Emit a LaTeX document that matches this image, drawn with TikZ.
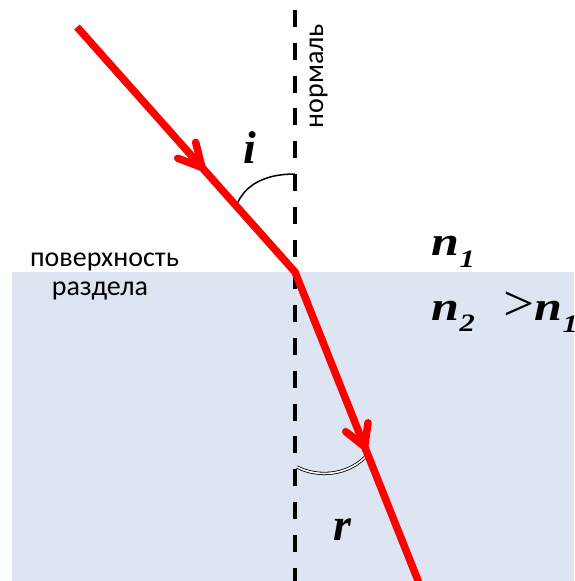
\documentclass[tikz,border=0pt]{standalone}
\usepackage{fontspec}
\setmainfont{Liberation Serif}
\newfontfamily\calibfont{Carlito}
\usetikzlibrary{decorations.markings}
\definecolor{waterblue}{RGB}{220,229,241}
\definecolor{rayred}{RGB}{255,0,0}
\begin{document}
\begin{tikzpicture}[x=1pt,y=-1pt,
  ray/.style={draw=rayred, line width=7.5pt, line join=miter},
  barb/.style={draw=rayred, line width=7.5pt, line cap=round, line join=round},
  normalline/.style={draw=black, line width=4pt, dash pattern=on 17pt off 15.8pt},
  anglearc/.style={draw=black, line width=1.5pt},
  anglearcdouble/.style={draw=black, double=white, double distance=1.6pt, line width=0.8pt},
  greek/.style={inner sep=0pt, font=\fontsize{46}{50}\selectfont\bfseries\itshape},
  idx/.style={inner sep=0pt, xscale=1.22, font=\fontsize{41}{44}\selectfont\bfseries\itshape},
  rel/.style={inner sep=0pt, xscale=1.1, font=\fontsize{50}{54}\selectfont},
  sanslabel/.style={inner sep=0pt, font=\fontsize{28}{32}\selectfont\calibfont}
]
\useasboundingbox (0,0) rectangle (574,581);
\clip (0,0) rectangle (574,581);
% lower medium
\fill[waterblue] (12,272) rectangle (574,581);
% coordinates
\coordinate (ntop) at (295,-22.8);
\coordinate (nbot) at (295,600);
\coordinate (src) at (77,27);
\coordinate (hit) at (295,272);
\coordinate (end) at (421,588);
\coordinate (ia) at (237,204);
\coordinate (ib) at (295,174);
\coordinate (ra) at (297,467);
\coordinate (rb) at (369,453);
% normal
\draw[normalline] (ntop) -- (nbot);
% angle arcs
\draw[anglearc] (ia) .. controls (245,186) and (263,174) .. (ib);
\draw[anglearcdouble] (ra) .. controls (318,478) and (350,476) .. (rb);
% ray
\draw[ray, postaction={decorate, decoration={markings,
  mark=at position 188pt with {\draw[barb] (-23pt,12pt) -- (0pt,0pt) -- (-23pt,-12pt);},
  mark=at position 516pt with {\draw[barb] (-21pt,12pt) -- (0pt,0pt) -- (-21pt,-12pt);}}}]
  (src) -- (hit) -- (end);
% labels
\node[greek, anchor=base west] (li) at (243,163) {i};
\node[greek, anchor=base west] (lr) at (333,540) {r};
\node[idx, anchor=base west] (ln1) at (431,255) {n\hspace{0.5pt}\raisebox{-12pt}{\fontsize{25}{25}\selectfont 1}};
\node[idx, anchor=base west] (ln2) at (431,320) {n\hspace{0.5pt}\raisebox{-11pt}{\fontsize{25}{25}\selectfont 2}};
\node[rel, anchor=base west] (lgt) at (503,320) {>};
\node[idx, anchor=base west] (ln1b) at (534,320) {n\hspace{0.5pt}\raisebox{-12pt}{\fontsize{25}{25}\selectfont 1}};
\node[sanslabel, rotate=90] (lnorm) at (318.5,76) {нормаль};
\node[sanslabel, anchor=base] (lsurf1) at (104.5,266) {поверхность};
\node[sanslabel, anchor=base] (lsurf2) at (100,295) {раздела};
\end{tikzpicture}
\end{document}
